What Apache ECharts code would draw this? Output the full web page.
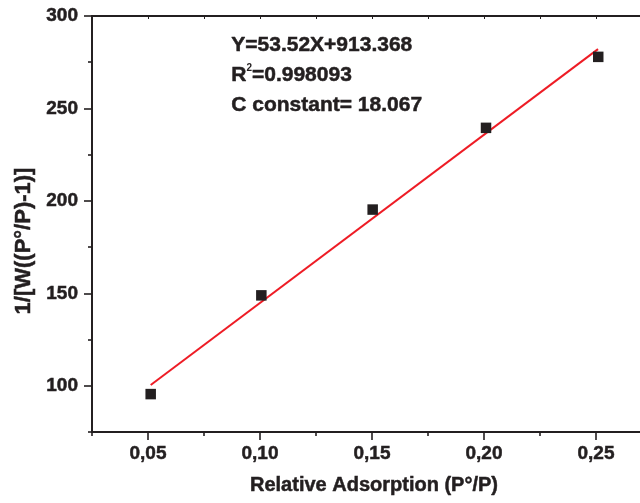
<!DOCTYPE html>
<html>
<head>
<meta charset="utf-8">
<script src="https://cdn.jsdelivr.net/npm/echarts@6/dist/echarts.min.js"></script>
<style>
html,body{margin:0;padding:0;background:#fff;}
#chart{width:640px;height:503px;}
</style>
</head>
<body>
<div id="chart"></div>
<script>
// Data
var xValues = [0.0512, 0.1006, 0.1503, 0.2009, 0.251];
var yValues = [95.5, 148.9, 195.3, 239.5, 277.9];
var fitX = [0.0512, 0.2509];
var fitY = [100.4, 282.1];
var xMajorTicks = [0.05, 0.10, 0.15, 0.20, 0.25];
var xMinorTicks = [0.025, 0.075, 0.125, 0.175, 0.225, 0.275];
var yMajorTicks = [100, 150, 200, 250, 300];
var yMinorTicks = [75, 125, 175, 225, 275];
var xTitle = 'Relative Adsorption (P°/P)';
var yTitle = '1/[W((P°/P)-1)]';
var eqLine = 'Y=53.52X+913.368';
var r2Value = '=0.998093';
var cLine = 'C constant= 18.067';

var ink = '#231f20';
var font = '"Liberation Sans", Arial, sans-serif';
var heavy = {textBorderColor: ink, textBorderWidth: 0.5};

var scatterData = xValues.map(function (x, i) { return [x, yValues[i]]; });
var fitData = fitX.map(function (x, i) { return [x, fitY[i]]; });

var chart = echarts.init(document.getElementById('chart'), null, {renderer: 'canvas'});

var baseLine = {show: true, lineStyle: {color: ink, width: 1.8}};

function labelStyle(size) {
  return Object.assign({color: ink, fontSize: size, fontWeight: 'bold', fontFamily: font}, heavy);
}

chart.setOption({
  backgroundColor: '#ffffff',
  animation: false,
  grid: {left: 92, top: 16, right: -12, bottom: 71, containLabel: false, outerBoundsMode: 'none'},
  xAxis: [
    {
      type: 'value', position: 'bottom', min: 0.025, max: 0.275,
      axisLine: baseLine,
      axisTick: {show: true, inside: false, length: 8, customValues: xMajorTicks, lineStyle: {color: ink, width: 1.6}},
      axisLabel: Object.assign({show: true, customValues: xMajorTicks, margin: 12,
        formatter: function (v) { return v.toFixed(2).replace('.', ','); }}, labelStyle(19)),
      splitLine: {show: false},
      name: xTitle, nameLocation: 'middle', nameGap: 43,
      nameTextStyle: Object.assign({padding: [0, 0, 0, 4]}, labelStyle(20))
    },
    {
      type: 'value', position: 'bottom', min: 0.025, max: 0.275,
      axisLine: baseLine,
      axisTick: {show: true, inside: false, length: 4, customValues: xMinorTicks, lineStyle: {color: ink, width: 1.6}},
      axisLabel: {show: false},
      splitLine: {show: false}
    },
    {
      type: 'value', position: 'top', min: 0.025, max: 0.275,
      axisLine: baseLine,
      axisTick: {show: true, inside: true, length: 3, customValues: xMajorTicks.concat(xMinorTicks), lineStyle: {color: ink, width: 1}},
      axisLabel: {show: false},
      splitLine: {show: false}
    }
  ],
  yAxis: [
    {
      type: 'value', position: 'left', min: 75, max: 300,
      axisLine: baseLine,
      axisTick: {show: true, inside: false, length: 8, customValues: yMajorTicks, lineStyle: {color: ink, width: 1.6}},
      axisLabel: Object.assign({show: true, customValues: yMajorTicks, margin: 14}, labelStyle(19)),
      splitLine: {show: false},
      name: yTitle, nameLocation: 'middle', nameGap: 53,
      nameTextStyle: Object.assign({padding: [0, 34, 0, 0]}, labelStyle(22))
    },
    {
      type: 'value', position: 'left', min: 75, max: 300,
      axisLine: baseLine,
      axisTick: {show: true, inside: false, length: 4, customValues: yMinorTicks, lineStyle: {color: ink, width: 1.6}},
      axisLabel: {show: false},
      splitLine: {show: false}
    }
  ],
  series: [
    {
      type: 'line', xAxisIndex: 0, yAxisIndex: 0, data: fitData,
      showSymbol: false, symbol: 'none',
      lineStyle: {color: '#ee1c25', width: 2}, z: 2
    },
    {
      type: 'scatter', xAxisIndex: 0, yAxisIndex: 0, data: scatterData,
      symbol: 'rect', symbolSize: 10.5,
      itemStyle: {color: ink, opacity: 1}, z: 3
    }
  ],
  graphic: [
    {
      type: 'text', left: 231, top: 34,
      style: {
        text: '{b|' + eqLine + '}\n{b|R}{s|2}{b|' + r2Value + '}\n{b|' + cLine + '}',
        rich: {
          b: {fontSize: 21, fontWeight: 'bold', fontFamily: font, fill: ink, stroke: ink, lineWidth: 0.5, lineHeight: 30},
          s: {fontSize: 10, fontWeight: 'bold', fontFamily: font, fill: ink, lineHeight: 30, verticalAlign: 'top', padding: [3, 0, 0, 0]}
        }
      }
    }
  ]
});
</script>
</body>
</html>
